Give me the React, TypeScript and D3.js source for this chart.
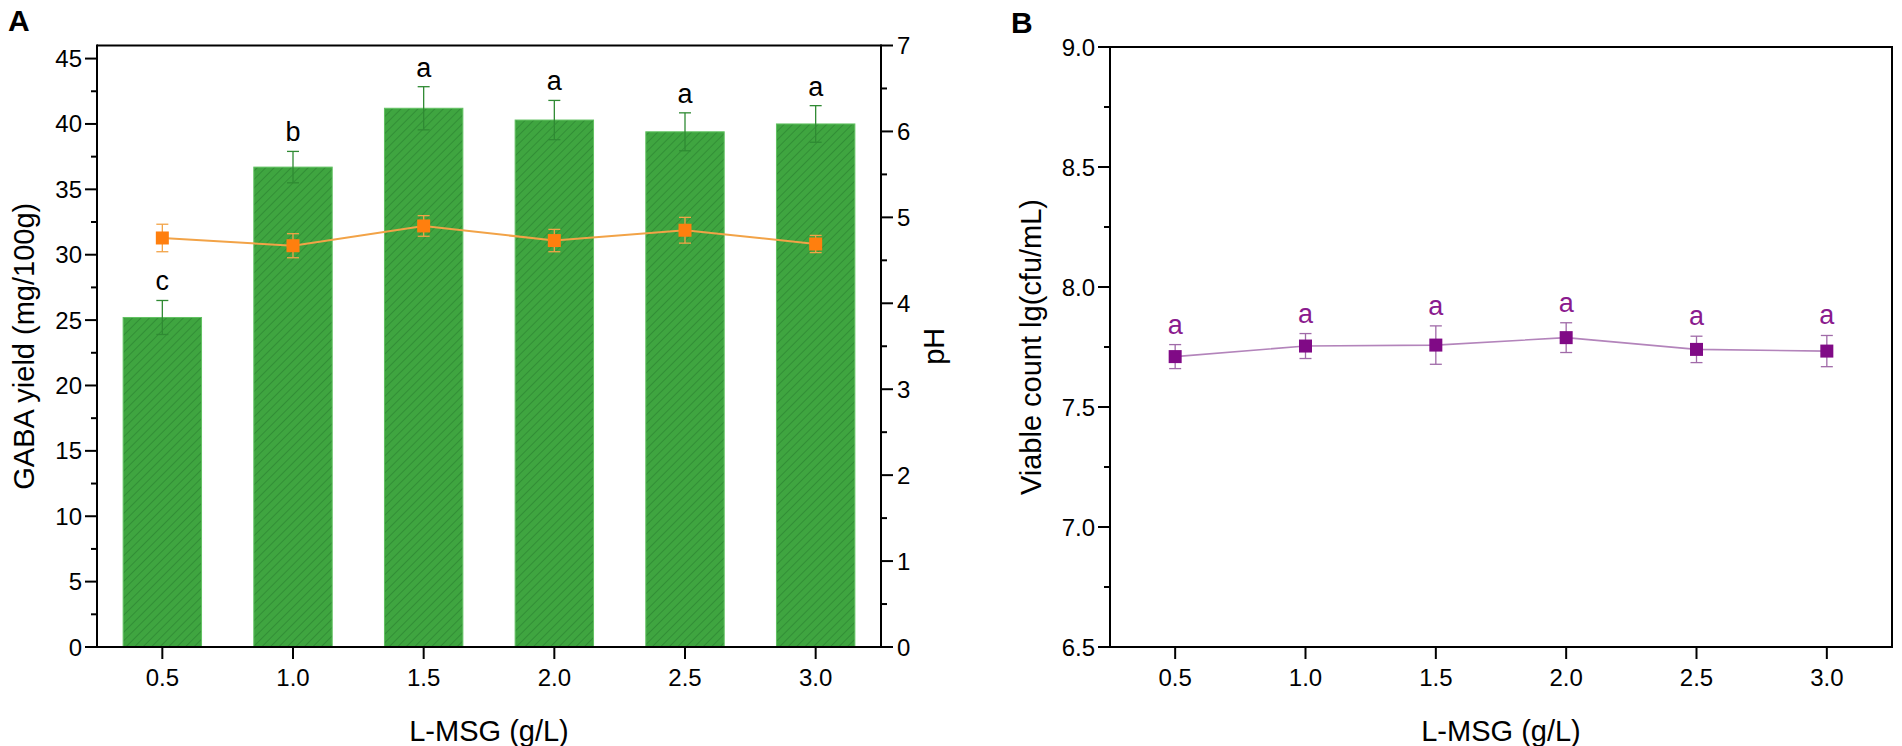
import React from "react";
import * as d3 from "d3";

const xCats = [0.5, 1.0, 1.5, 2.0, 2.5, 3.0];
const xLabels = ["0.5", "1.0", "1.5", "2.0", "2.5", "3.0"];
const gaba = [25.2, 36.7, 41.2, 40.3, 39.4, 40.0];
const gabaErr = [1.3, 1.2, 1.65, 1.5, 1.45, 1.4];
const gabaLetters = ["c", "b", "a", "a", "a", "a"];
const ph = [4.76, 4.67, 4.9, 4.73, 4.85, 4.69];
const phErr = [0.16, 0.14, 0.12, 0.13, 0.15, 0.1];
const viable = [7.71, 7.754, 7.758, 7.789, 7.74, 7.733];
const viableErr = [0.05, 0.052, 0.08, 0.062, 0.055, 0.065];
const viableLetters = ["a", "a", "a", "a", "a", "a"];
const gabaTicks = [0, 5, 10, 15, 20, 25, 30, 35, 40, 45];
const phTicks = [0, 1, 2, 3, 4, 5, 6, 7];
const viableTicks = [6.5, 7.0, 7.5, 8.0, 8.5, 9.0];

const FONT = "'Liberation Sans', Arial, sans-serif";
const TICK_FS = 24;
const TITLE_FS = 29;
const LETTER_FS = 27;

const BOTTOM = 647;

export default function App() {
  const xA = d3.scaleLinear().domain([0.25, 3.25]).range([97, 881]);
  const yA = d3.scaleLinear().domain([0, 46]).range([BOTTOM, 45.5]);
  const yPh = d3.scaleLinear().domain([0, 7]).range([BOTTOM, 45.5]);
  const xB = d3.scaleLinear().domain([0.25, 3.25]).range([1110, 1892]);
  const yB = d3.scaleLinear().domain([6.5, 9.0]).range([BOTTOM, 47]);

  const barW = xA(0.65) - xA(0.35);
  const phLine = d3
    .line<number>()
    .x((_, i) => xA(xCats[i]))
    .y((d) => yPh(d));
  const vLine = d3
    .line<number>()
    .x((_, i) => xB(xCats[i]))
    .y((d) => yB(d));

  const minorA = d3.range(2.5, 46, 5);
  const minorPh = d3.range(0.5, 7, 1);
  const minorB = d3.range(6.75, 9.0, 0.5);

  const axisStroke = { stroke: "#000", strokeWidth: 2 };
  const cap = 6;

  return (
    <svg
      width={1902}
      height={746}
      style={{ position: "absolute", left: 0, top: 0, background: "#fff" }}
      fontFamily={FONT}
    >
      <defs>
        <pattern
          id="hatch"
          width={6}
          height={6}
          patternUnits="userSpaceOnUse"
          patternTransform="rotate(45)"
        >
          <rect width={6} height={6} fill="#3fa540" />
          <line x1={0} y1={0} x2={0} y2={6} stroke="#2b8230" strokeWidth={1.3} />
        </pattern>
      </defs>

      {/* Panel labels */}
      <text x={8} y={31} fontSize={30} fontWeight="bold">A</text>
      <text x={1011} y={33} fontSize={30} fontWeight="bold">B</text>

      {/* ===== Panel A ===== */}
      {gaba.map((v, i) => (
        <rect
          key={"bar" + i}
          x={xA(xCats[i]) - barW / 2}
          y={yA(v)}
          width={barW}
          height={yA(0) - yA(v)}
          fill="url(#hatch)"
          stroke="#62c262"
          strokeWidth={1}
        />
      ))}
      {gaba.map((v, i) => {
        const cx = xA(xCats[i]);
        const t = yA(v + gabaErr[i]);
        const b = yA(v - gabaErr[i]);
        return (
          <g key={"gerr" + i} stroke="#2f8a33" strokeWidth={1.3}>
            <line x1={cx} x2={cx} y1={t} y2={b} />
            <line x1={cx - cap} x2={cx + cap} y1={t} y2={t} />
            <line x1={cx - cap} x2={cx + cap} y1={b} y2={b} />
          </g>
        );
      })}
      {gaba.map((v, i) => (
        <text
          key={"glet" + i}
          x={xA(xCats[i])}
          y={yA(v + gabaErr[i]) - 10}
          fontSize={LETTER_FS}
          textAnchor="middle"
          fill="#000"
        >
          {gabaLetters[i]}
        </text>
      ))}

      {/* pH line */}
      <path d={phLine(ph) || ""} fill="none" stroke="#f2a347" strokeWidth={2} />
      {ph.map((v, i) => {
        const cx = xA(xCats[i]);
        const t = yPh(v + phErr[i]);
        const b = yPh(v - phErr[i]);
        return (
          <g key={"perr" + i} stroke="#f2a347" strokeWidth={1.3}>
            <line x1={cx} x2={cx} y1={t} y2={b} />
            <line x1={cx - cap} x2={cx + cap} y1={t} y2={t} />
            <line x1={cx - cap} x2={cx + cap} y1={b} y2={b} />
          </g>
        );
      })}
      {ph.map((v, i) => (
        <rect
          key={"pm" + i}
          x={xA(xCats[i]) - 6.5}
          y={yPh(v) - 6.5}
          width={13}
          height={13}
          fill="#ff7f0e"
        />
      ))}

      {/* Frame A */}
      <line x1={xA(0.25)} x2={xA(3.25)} y1={yA(46)} y2={yA(46)} {...axisStroke} />
      <line x1={xA(0.25)} x2={xA(3.25)} y1={BOTTOM} y2={BOTTOM} {...axisStroke} />
      <line x1={xA(0.25)} x2={xA(0.25)} y1={yA(46) - 1} y2={BOTTOM + 1} {...axisStroke} />
      <line x1={xA(3.25)} x2={xA(3.25)} y1={yA(46) - 1} y2={BOTTOM + 1} {...axisStroke} />

      {/* Left ticks A */}
      {gabaTicks.map((t) => (
        <g key={"gt" + t}>
          <line x1={xA(0.25) - 12} x2={xA(0.25)} y1={yA(t)} y2={yA(t)} {...axisStroke} />
          <text
            x={xA(0.25) - 15}
            y={yA(t)}
            fontSize={TICK_FS}
            textAnchor="end"
            dominantBaseline="central"
          >
            {t}
          </text>
        </g>
      ))}
      {minorA.map((t) => (
        <line key={"gm" + t} x1={xA(0.25) - 6} x2={xA(0.25)} y1={yA(t)} y2={yA(t)} {...axisStroke} />
      ))}
      {/* Right ticks A (pH) */}
      {phTicks.map((t) => (
        <g key={"pt" + t}>
          <line x1={xA(3.25)} x2={xA(3.25) + 12} y1={yPh(t)} y2={yPh(t)} {...axisStroke} />
          <text
            x={xA(3.25) + 16}
            y={yPh(t)}
            fontSize={TICK_FS}
            textAnchor="start"
            dominantBaseline="central"
          >
            {t}
          </text>
        </g>
      ))}
      {minorPh.map((t) => (
        <line key={"pmn" + t} x1={xA(3.25)} x2={xA(3.25) + 6} y1={yPh(t)} y2={yPh(t)} {...axisStroke} />
      ))}
      {/* Bottom ticks A */}
      {xCats.map((c, i) => (
        <g key={"xa" + i}>
          <line x1={xA(c)} x2={xA(c)} y1={BOTTOM} y2={BOTTOM + 12} {...axisStroke} />
          <text x={xA(c)} y={BOTTOM + 39} fontSize={TICK_FS} textAnchor="middle">
            {xLabels[i]}
          </text>
        </g>
      ))}
      <text x={(xA(0.25) + xA(3.25)) / 2} y={741} fontSize={TITLE_FS} textAnchor="middle">
        L-MSG (g/L)
      </text>
      <text
        transform={`translate(24, ${(yA(46) + BOTTOM) / 2}) rotate(-90)`}
        fontSize={TITLE_FS}
        textAnchor="middle"
        dominantBaseline="central"
      >
        GABA yield (mg/100g)
      </text>
      <text
        transform={`translate(934, ${(yA(46) + BOTTOM) / 2}) rotate(-90)`}
        fontSize={TITLE_FS}
        textAnchor="middle"
        dominantBaseline="central"
      >
        pH
      </text>

      {/* ===== Panel B ===== */}
      <path d={vLine(viable) || ""} fill="none" stroke="#b384bb" strokeWidth={1.6} />
      {viable.map((v, i) => {
        const cx = xB(xCats[i]);
        const t = yB(v + viableErr[i]);
        const b = yB(v - viableErr[i]);
        return (
          <g key={"verr" + i} stroke="#a06aa8" strokeWidth={1.3}>
            <line x1={cx} x2={cx} y1={t} y2={b} />
            <line x1={cx - cap} x2={cx + cap} y1={t} y2={t} />
            <line x1={cx - cap} x2={cx + cap} y1={b} y2={b} />
          </g>
        );
      })}
      {viable.map((v, i) => (
        <rect
          key={"vm" + i}
          x={xB(xCats[i]) - 6.5}
          y={yB(v) - 6.5}
          width={13}
          height={13}
          fill="#800a86"
        />
      ))}
      {viable.map((v, i) => (
        <text
          key={"vlet" + i}
          x={xB(xCats[i])}
          y={yB(v + viableErr[i]) - 11}
          fontSize={LETTER_FS}
          textAnchor="middle"
          fill="#8a1a8e"
        >
          {viableLetters[i]}
        </text>
      ))}

      {/* Frame B */}
      <line x1={xB(0.25)} x2={xB(3.25)} y1={yB(9)} y2={yB(9)} {...axisStroke} />
      <line x1={xB(0.25)} x2={xB(3.25)} y1={BOTTOM} y2={BOTTOM} {...axisStroke} />
      <line x1={xB(0.25)} x2={xB(0.25)} y1={yB(9) - 1} y2={BOTTOM + 1} {...axisStroke} />
      <line x1={xB(3.25)} x2={xB(3.25)} y1={yB(9) - 1} y2={BOTTOM + 1} {...axisStroke} />
      {viableTicks.map((t) => (
        <g key={"vt" + t}>
          <line x1={xB(0.25) - 12} x2={xB(0.25)} y1={yB(t)} y2={yB(t)} {...axisStroke} />
          <text
            x={xB(0.25) - 15}
            y={yB(t)}
            fontSize={TICK_FS}
            textAnchor="end"
            dominantBaseline="central"
          >
            {t.toFixed(1)}
          </text>
        </g>
      ))}
      {minorB.map((t) => (
        <line key={"vmn" + t} x1={xB(0.25) - 6} x2={xB(0.25)} y1={yB(t)} y2={yB(t)} {...axisStroke} />
      ))}
      {xCats.map((c, i) => (
        <g key={"xb" + i}>
          <line x1={xB(c)} x2={xB(c)} y1={BOTTOM} y2={BOTTOM + 12} {...axisStroke} />
          <text x={xB(c)} y={BOTTOM + 39} fontSize={TICK_FS} textAnchor="middle">
            {xLabels[i]}
          </text>
        </g>
      ))}
      <text x={(xB(0.25) + xB(3.25)) / 2} y={741} fontSize={TITLE_FS} textAnchor="middle">
        L-MSG (g/L)
      </text>
      <text
        transform={`translate(1031, ${(yB(9) + BOTTOM) / 2}) rotate(-90)`}
        fontSize={TITLE_FS}
        textAnchor="middle"
        dominantBaseline="central"
      >
        Viable count lg(cfu/mL)
      </text>
    </svg>
  );
}
